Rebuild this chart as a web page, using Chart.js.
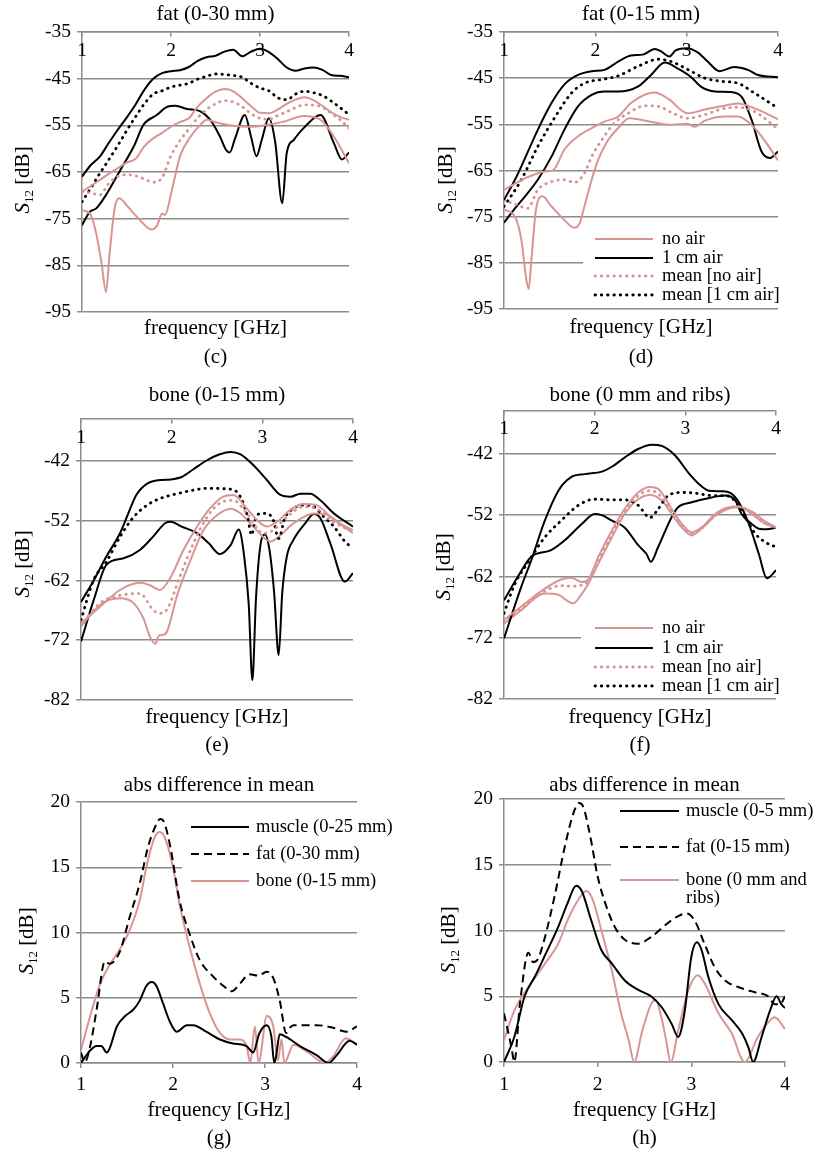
<!DOCTYPE html>
<html>
<head>
<meta charset="utf-8">
<title>S12 panels</title>
<script src="https://cdn.jsdelivr.net/npm/chart.js@4.4.1/dist/chart.umd.min.js"></script>
<style>
  html, body { margin: 0; padding: 0; background: #fff; }
  #page { position: relative; width: 815px; height: 1153px; overflow: hidden; }
  #page canvas { position: absolute; }
</style>
</head>
<body>
<div id="page">
  <canvas id="panelC" width="410" height="370" style="left:0;top:0"></canvas>
  <canvas id="panelD" width="410" height="370" style="left:405px;top:0"></canvas>
  <canvas id="panelE" width="410" height="380" style="left:0;top:380px"></canvas>
  <canvas id="panelF" width="410" height="380" style="left:405px;top:380px"></canvas>
  <canvas id="panelG" width="410" height="383" style="left:0;top:770px"></canvas>
  <canvas id="panelH" width="410" height="383" style="left:405px;top:770px"></canvas>
</div>
<script>
// ---- data (frequency in GHz, S12 in dB) ----

// (c) fat (0-30 mm)
const cGrid = [1.0,1.1,1.2,1.3,1.4,1.5,1.6,1.7,1.8,1.9,2.0,2.1,2.2,2.3,2.4,2.5,2.6,2.7,2.8,2.9,3.0,3.1,3.2,3.3,3.4,3.5,3.6,3.7,3.8,3.9,4.0];
const cAirHi = [-66,-63.5,-61.7,-58.8,-56,-53.4,-50.6,-47.4,-45,-43.8,-43.4,-43.2,-42.5,-41.2,-40.4,-40.1,-39.2,-38.8,-40.2,-39.2,-38.6,-39.3,-40.8,-42.6,-43.3,-42.8,-42.6,-43.1,-44.2,-44.4,-44.7];
const cAirMean = [-71.4,-68.4,-65.3,-62.4,-59.4,-56.2,-53.2,-50.4,-48.3,-47.6,-46.8,-46.4,-46,-45.1,-44.5,-44,-44.1,-44.3,-44.7,-46,-47,-47.6,-49.1,-49.5,-48.3,-47.7,-48,-48.6,-49.8,-51.2,-52.7];
const cNoAirHi = [-69.2,-68,-66.7,-65.4,-64.2,-63,-62.2,-59.5,-57.8,-56.6,-55.3,-54.3,-53.5,-51,-49.2,-47.8,-47.2,-47.7,-49.2,-50.9,-52.3,-52.4,-51.6,-50.4,-49.5,-49,-49.6,-50.8,-52.2,-53.2,-53.8];
const cNoAirMean = [-69.2,-69.5,-69.9,-67.5,-66,-65.6,-65.8,-66.5,-67.2,-66.2,-61.5,-58.3,-55.8,-53.4,-51.6,-50.4,-49.7,-50,-51,-52.5,-53.5,-53.7,-52.9,-52.1,-51.2,-50.6,-50.7,-51.1,-52.4,-53.8,-55.6];
const cAirLoF = [1.0,1.09,1.16,1.28,1.43,1.58,1.69,1.84,1.95,2.05,2.18,2.33,2.44,2.55,2.62,2.66,2.72,2.83,2.9,2.96,3.02,3.1,3.17,3.25,3.3,3.38,3.49,3.68,3.83,3.92,4.0];
const cAirLo = [-76.4,-73.5,-72.8,-69.6,-64.6,-59.6,-54.9,-52.8,-51.1,-50.8,-51.5,-52,-53.8,-57.4,-60.3,-60.8,-57.8,-52.8,-57.5,-61.6,-58.1,-53.5,-58.5,-71.7,-61,-58.1,-55.6,-52.8,-58.8,-62.3,-60.8];
const cNoAirLoF = [1.0,1.09,1.16,1.22,1.27,1.31,1.37,1.42,1.5,1.65,1.78,1.84,1.9,1.93,2.01,2.1,2.22,2.33,2.4,2.51,2.7,2.89,3.08,3.27,3.49,3.68,3.83,4.0];
const cNoAirLo = [-73.2,-73.9,-78.2,-84.6,-90.7,-82.5,-72.4,-70.6,-72.1,-75.3,-77.3,-76.6,-73.9,-74.2,-68.9,-61.7,-57.4,-54.9,-53.8,-54.4,-55.1,-55.3,-54.9,-54.2,-53,-53.8,-57.4,-63.1];

// (d) fat (0-15 mm)
const dAirHiF = [1.0,1.12,1.19,1.37,1.52,1.66,1.81,1.96,2.1,2.25,2.39,2.52,2.65,2.72,2.81,2.88,3.0,3.12,3.23,3.36,3.52,3.67,3.78,4.0];
const dAirHi = [-71.4,-67,-64.1,-56.2,-50.4,-46.4,-44.3,-43.5,-43.2,-41.4,-40.1,-39.9,-38.7,-39.2,-40.3,-39,-38.5,-39.4,-41.4,-43.5,-42.6,-43.2,-44.3,-44.8];
const dAirLoF = [1.0,1.12,1.23,1.37,1.52,1.66,1.81,1.96,2.1,2.25,2.47,2.61,2.76,2.91,3.05,3.16,3.31,3.47,3.6,3.71,3.82,3.91,4.0];
const dAirLo = [-76.3,-73.2,-70.6,-67,-62,-56.2,-51.1,-48.6,-47.9,-47.9,-46.8,-44.3,-41.6,-43,-44.8,-46.9,-47.9,-48,-49,-54,-60.9,-62.3,-60.9];
const dAirMeanF = [1.0,1.19,1.37,1.55,1.74,1.88,2.1,2.25,2.47,2.69,2.83,3.02,3.2,3.39,3.56,3.74,4.0];
const dAirMean = [-72.8,-67,-59.8,-53.7,-48.2,-46.1,-45.2,-44.5,-42.4,-40.9,-41.4,-43.2,-45,-45.7,-46.1,-48.2,-51.5];
const dNoAirHiF = [1.0,1.23,1.45,1.54,1.66,1.81,1.96,2.1,2.25,2.39,2.54,2.65,2.8,3.01,3.2,3.38,3.56,3.74,4.0];
const dNoAirHi = [-69.2,-66.7,-65.2,-64.9,-60.5,-57.6,-55.8,-54.4,-53.3,-50.4,-48.6,-48.1,-49.5,-52.6,-51.8,-51.1,-50.5,-51.5,-53.9];
const dNoAirLoF = [1.0,1.12,1.19,1.24,1.27,1.3,1.35,1.42,1.52,1.66,1.77,1.83,1.88,1.96,2.03,2.14,2.25,2.37,2.47,2.65,2.83,3.01,3.09,3.2,3.42,3.56,3.71,3.85,4.0];
const dNoAirLo = [-73.5,-75,-80,-88,-90.7,-84.4,-73.5,-70.6,-72.8,-75.7,-77.4,-76.4,-72.8,-67,-62.7,-58.4,-55.8,-53.7,-53.9,-54.6,-55.1,-54.9,-55.5,-54.2,-53.3,-53.3,-55.1,-58.4,-62.8];
const dNoAirMeanF = [1.0,1.15,1.26,1.37,1.52,1.66,1.77,1.88,1.96,2.07,2.21,2.36,2.54,2.69,2.83,3.01,3.2,3.38,3.56,3.74,4.0];
const dNoAirMean = [-71.4,-72.5,-73.2,-69.2,-67.4,-67,-67.6,-65.6,-62,-58.4,-54.7,-52.6,-51,-51.1,-52.4,-53.7,-52.9,-51.7,-51.3,-52.2,-56];

// (e) bone (0-15 mm)
const eAirHiF = [1.0,1.14,1.28,1.43,1.5,1.61,1.73,1.87,1.99,2.11,2.24,2.39,2.53,2.65,2.76,2.9,3.05,3.2,3.31,3.42,3.53,3.64,3.79,4.0];
const eAirHi = [-65.6,-62,-58,-54.1,-51.6,-47.7,-45.8,-45.2,-45.1,-44.7,-43.4,-41.9,-40.9,-40.5,-40.9,-42.7,-45.2,-47.7,-48,-47.5,-47.5,-48.6,-50.8,-53];
const eAirLoF = [1.0,1.14,1.28,1.47,1.65,1.8,1.93,1.99,2.11,2.28,2.41,2.53,2.65,2.74,2.8,2.85,2.89,2.93,2.98,3.03,3.08,3.13,3.18,3.22,3.27,3.34,3.47,3.57,3.64,3.75,3.91,4.0];
const eAirLo = [-72.2,-65.3,-59.4,-58.3,-56.9,-54.6,-52.4,-52.2,-53,-54.1,-55.8,-57.6,-56.1,-53.5,-58,-66,-78.7,-65,-56,-54.3,-57,-64,-74.5,-64,-58,-55.3,-52.5,-50.9,-51.6,-55.8,-62.2,-60.8];
const eAirMeanF = [1.0,1.14,1.28,1.43,1.58,1.73,1.87,2.06,2.24,2.39,2.61,2.72,2.79,2.84,2.88,2.93,2.98,3.05,3.12,3.18,3.25,3.34,3.45,3.57,3.68,3.79,3.93,4.0];
const eAirMean = [-68.6,-61.9,-58.9,-54.7,-51.4,-49.4,-48.3,-47.5,-46.9,-46.6,-46.7,-47.2,-49.1,-51.5,-54.4,-51.5,-50.8,-50.8,-51.9,-55,-51.5,-50,-49.4,-49.7,-51.4,-53,-55.8,-56.4];
const eNoAirHiF = [1.0,1.21,1.43,1.65,1.76,1.87,1.98,2.13,2.28,2.42,2.57,2.68,2.83,2.94,3.05,3.16,3.31,3.45,3.6,3.75,4.0];
const eNoAirHi = [-69.2,-66.4,-63.6,-62.4,-62.8,-63.6,-61.7,-56.9,-53,-50,-48,-47.7,-50,-51.9,-53,-52.2,-50.2,-49.2,-49.4,-51.4,-54.1];
const eNoAirLoF = [1.0,1.21,1.43,1.58,1.69,1.76,1.82,1.86,1.91,1.95,2.06,2.2,2.35,2.5,2.65,2.76,2.9,3.09,3.2,3.34,3.57,3.71,3.86,4.0];
const eNoAirLo = [-69.7,-66.1,-65,-65.8,-68.4,-71.4,-72.6,-71.2,-71.1,-70.5,-64.5,-58.9,-53.6,-51.1,-50,-50.8,-53,-55.5,-54.4,-52.5,-50.8,-51,-52.5,-53.6];
const eNoAirMeanF = [1.0,1.21,1.43,1.65,1.8,1.87,1.95,2.09,2.24,2.39,2.53,2.68,2.83,3.01,3.12,3.27,3.45,3.6,3.75,4.0];
const eNoAirMean = [-69.5,-65.8,-64.5,-64.2,-67,-67.5,-66.8,-61.4,-55.8,-51.4,-49.1,-48.6,-50.8,-54.1,-53.6,-51.4,-49.7,-50,-51.9,-53.9];

// (f) bone (0 mm and ribs)
const fAirHiF = [1.0,1.19,1.3,1.45,1.6,1.74,1.89,2.08,2.19,2.33,2.48,2.63,2.74,2.89,3.03,3.15,3.26,3.4,3.5,3.59,3.7,3.81,3.9,4.0];
const fAirHi = [-72.1,-63.7,-59.4,-52.9,-48,-45.8,-45.3,-44.9,-44.1,-42.6,-41.2,-40.5,-40.7,-42.3,-45,-46.9,-48,-48.1,-48.4,-49.9,-53.4,-58.3,-62.3,-61];
const fAirLoF = [1.0,1.15,1.3,1.52,1.67,1.86,2.0,2.08,2.19,2.33,2.48,2.57,2.62,2.7,2.85,2.92,3.07,3.29,3.44,3.55,3.62,3.73,3.81,3.9,4.0];
const fAirLo = [-65.9,-62.1,-58.8,-57.7,-56.1,-53.4,-51.8,-52,-52.9,-54,-56.9,-58.3,-59.6,-57.2,-52.3,-50.7,-49.9,-49.1,-48.8,-49.6,-51.8,-53.4,-54.2,-54.3,-54];
const fAirMeanF = [1.0,1.12,1.27,1.45,1.63,1.82,2.0,2.19,2.33,2.48,2.61,2.7,2.81,2.96,3.11,3.29,3.44,3.55,3.66,3.77,3.88,4.0];
const fAirMean = [-68,-63.2,-59.6,-55.6,-52.9,-50.4,-49.4,-49.5,-49.5,-50.4,-52.4,-51,-48.8,-48.3,-48.4,-48.8,-48.8,-49.7,-52.3,-55,-56.4,-57.2];
const fNoAirF = [1.0,1.19,1.45,1.63,1.74,1.86,1.93,2.04,2.19,2.33,2.48,2.61,2.7,2.85,2.96,3.07,3.18,3.33,3.48,3.59,3.73,3.88,4.0];
const fNoAirHi = [-69.1,-66.9,-64,-62.5,-62.2,-62.9,-62.5,-58.8,-54.5,-51,-48.3,-47.4,-47.7,-51,-53.4,-54.8,-54,-51.8,-50.7,-50.6,-51.8,-53.4,-54];
const fNoAirMean = [-69.4,-67.2,-64.4,-63.5,-63.6,-63.4,-62.8,-59.3,-55,-51.4,-48.8,-48,-48.5,-51.4,-53.7,-55,-54.1,-52,-50.8,-50.6,-51.6,-53.2,-54];
const fNoAirLoF = [1.0,1.19,1.45,1.6,1.71,1.76,1.86,1.93,2.04,2.19,2.33,2.48,2.61,2.74,2.85,2.96,3.07,3.18,3.33,3.48,3.59,3.73,3.88,4.0];
const fNoAirLo = [-69.7,-67.5,-64.8,-65,-66.1,-66.4,-64.8,-63.2,-59.9,-55.6,-51.8,-49.4,-48.7,-49.6,-51.8,-54,-55.3,-54.2,-52.1,-50.9,-50.7,-51.4,-53,-54];

// (g) abs difference in mean
const gMuscleF = [1.0,1.08,1.17,1.22,1.28,1.31,1.39,1.48,1.57,1.64,1.71,1.77,1.82,1.89,1.97,2.04,2.15,2.22,2.36,2.51,2.65,2.8,2.87,2.94,3.02,3.07,3.1,3.12,3.16,3.23,3.38,3.56,3.69,3.78,3.92,4.0];
const gMuscle = [0,0.8,1.3,1.3,0.8,1.1,2.8,3.6,4.1,4.8,5.9,6.2,5.9,4.6,3.1,2.4,2.9,2.9,2.4,1.8,1.5,1.3,0.8,2.3,2.9,2,0,0.5,2.2,2,1.3,0.6,0,0.6,1.7,1.4];
const gFatF = [1.0,1.04,1.1,1.17,1.26,1.31,1.42,1.53,1.64,1.73,1.82,1.86,1.9,1.97,2.07,2.18,2.29,2.44,2.55,2.64,2.73,2.83,2.93,3.02,3.09,3.16,3.23,3.27,3.31,3.56,3.74,3.88,4.0];
const gFat = [0.8,0.05,1.3,4.1,7.8,7.6,8.5,11.2,13.8,16.6,18.3,18.7,18.5,16.6,12.5,9.9,7.9,6.6,5.9,5.5,6.1,6.8,6.7,7,6.5,4.8,2.3,2.7,2.9,2.9,2.7,2.4,2.8];
const gBoneF = [1.0,1.1,1.21,1.31,1.42,1.53,1.64,1.71,1.79,1.85,1.91,2.0,2.07,2.18,2.29,2.4,2.51,2.62,2.73,2.8,2.84,2.89,2.93,3.02,3.09,3.14,3.18,3.21,3.31,3.45,3.65,3.74,3.88,4.0];
const gBone = [1,3.6,6.1,7.5,8.7,10.2,12.5,15,17.1,17.7,17.3,15,12.2,8.9,6.1,3.8,2.3,1.8,1.8,1.3,0,2.8,0,3.6,2.8,0.2,1.8,0,1.4,0.9,0,0.5,1.9,1.4];

// (h) abs difference in mean
const hMuscleF = [1.0,1.11,1.22,1.33,1.43,1.58,1.68,1.77,1.83,1.93,2.04,2.15,2.29,2.43,2.57,2.68,2.79,2.86,2.93,3.0,3.06,3.11,3.18,3.29,3.43,3.54,3.61,3.66,3.75,3.84,3.91,3.96,4.0];
const hMuscle = [0,1.9,5,6.5,8,10.3,12.1,13.4,13,10.8,8.5,7.5,6.2,5.5,5,4.2,2.9,1.9,3.9,8,9.1,8.5,6.5,4.4,3.2,2.2,1.1,0,1.9,3.9,5,4.4,4.1];
const hFatF = [1.0,1.08,1.11,1.17,1.26,1.31,1.36,1.43,1.54,1.65,1.74,1.8,1.84,1.92,2.0,2.08,2.18,2.29,2.43,2.57,2.72,2.86,2.95,3.04,3.14,3.25,3.36,3.5,3.68,3.82,3.89,3.95,4.0];
const hFat = [3.7,1.1,0,4.4,8.3,7.6,7.8,9.3,12.6,16.4,18.9,19.7,19.5,17.2,14.1,12.1,10.3,9.3,9,9.5,10.4,11.1,11.3,10.7,9,7.2,6.2,5.7,5.3,5,4.4,4.4,5];
const hBoneF = [1.0,1.11,1.26,1.36,1.47,1.58,1.68,1.79,1.88,1.95,2.04,2.15,2.25,2.33,2.39,2.47,2.57,2.62,2.68,2.73,2.78,2.86,2.97,3.07,3.14,3.29,3.43,3.57,3.71,3.82,3.89,4.0];
const hBone = [1.7,3.9,5.7,6.7,7.8,9,10.8,12.3,13,12.3,10,7,3.7,1.7,0,2.2,4.4,4.7,3.4,1.7,0,2.4,5.5,6.6,6,3.7,2.2,0,1.9,3,3.4,2.5];

// tick labels for the bone panels (axis runs -82 .. -35)
const boneTicks = [-82, -72, -62, -52, -42];

// ---- styling ----
const SERIF = '"Liberation Serif", "Times New Roman", serif';
const PINK = '#d99494';
const BLACK = '#000';
const GRID = '#8c8c8c';

const series = (label, f, v, color, style, inLegend = true) => ({
  label: label,
  inLegend: inLegend,
  data: f.map((x, i) => ({ x: x, y: v[i] })),
  borderColor: color,
  backgroundColor: color,
  borderWidth: style === 'dot' ? 2.8 : 2,
  borderDash: style === 'dot' ? [0.5, 5.8] : style === 'dash' ? [8, 5] : [],
  borderCapStyle: style === 'dot' ? 'round' : 'butt',
  pointRadius: 0,
  cubicInterpolationMode: 'monotone',
  fill: false
});

// legend box and the S12 [dB] title drawn inside each panel
const panelDecor = {
  id: 'panelDecor',
  afterDatasetsDraw(chart, args, opts) {
    const L = opts.legend;
    if (!L) return;
    const ctx = chart.ctx;
    ctx.save();
    ctx.fillStyle = '#fff';
    ctx.fillRect(L.box[0], L.box[1], L.box[2], L.box[3]);
    ctx.font = L.size + 'px ' + SERIF;
    ctx.textBaseline = 'middle';
    ctx.textAlign = 'left';
    let k = 0;
    chart.data.datasets.forEach(ds => {
      if (ds.inLegend === false) return;
      const y = L.rows[k++];
      ctx.beginPath();
      ctx.strokeStyle = ds.borderColor;
      ctx.lineWidth = ds.borderWidth;
      ctx.setLineDash(ds.borderDash);
      ctx.lineCap = ds.borderCapStyle;
      ctx.moveTo(L.x0, y);
      ctx.lineTo(L.x1, y);
      ctx.stroke();
      ctx.fillStyle = '#000';
      String(ds.label).split('\n').forEach((t, j) => ctx.fillText(t, L.tx, y + j * L.lh));
    });
    ctx.restore();
  },
  afterDraw(chart, args, opts) {
    const T = opts.yTitle;
    if (!T) return;
    const ctx = chart.ctx;
    const big = 'italic 21px ' + SERIF, small = '13px ' + SERIF, reg = '21px ' + SERIF;
    ctx.save();
    ctx.translate(T.x, T.y);
    ctx.rotate(-Math.PI / 2);
    ctx.fillStyle = '#000';
    ctx.textBaseline = 'alphabetic';
    ctx.textAlign = 'left';
    ctx.font = big; const wS = ctx.measureText('S').width;
    ctx.font = small; const w12 = ctx.measureText('12').width;
    ctx.font = reg; const wR = ctx.measureText(' [dB]').width;
    let x = -(wS + w12 + wR) / 2;
    ctx.font = big; ctx.fillText('S', x, 7); x += wS;
    ctx.font = small; ctx.fillText('12', x, 11); x += w12;
    ctx.font = reg; ctx.fillText(' [dB]', x, 7);
    ctx.restore();
  }
};

const tickFont = { family: SERIF, size: 19.5 };
const textFont = { family: SERIF, size: 21, weight: 'normal' };

function makePanel(id, p, datasets) {
  const lh = textFont.size * 1.2;
  const xH = p.freqY - p.bottom + lh / 2;
  const yScale = {
    min: p.ymin, max: p.ymax,
    ticks: { stepSize: p.ystep, color: '#000', font: tickFont, padding: 6 },
    grid: { color: GRID, lineWidth: 1.5, tickLength: 5 },
    border: { color: GRID, width: 1.5 },
    afterFit: s => { s.width = p.left; }
  };
  if (p.yTicks) yScale.afterBuildTicks = s => { s.ticks = p.yTicks.map(v => ({ value: v })); };

  const scales = { y: yScale };
  if (p.topAxis) {
    scales.x = {
      type: 'linear', min: 1, max: 4, position: 'bottom',
      ticks: { display: false },
      grid: { display: false },
      border: { display: false },
      title: { display: true, text: 'frequency [GHz]', color: '#000', font: textFont, padding: 0 },
      afterFit: s => { s.height = xH; }
    };
    scales.x2 = {
      type: 'linear', min: 1, max: 4, position: { y: p.ymax },
      ticks: { stepSize: 1, color: '#000', font: tickFont, padding: p.tickPad, maxRotation: 0 },
      grid: { drawOnChartArea: false, color: GRID, lineWidth: 1.5, tickLength: 4 },
      border: { color: GRID, width: 1.5 }
    };
  } else {
    scales.x = {
      type: 'linear', min: 1, max: 4, position: 'bottom',
      ticks: { stepSize: 1, color: '#000', font: tickFont, padding: p.tickPad, maxRotation: 0 },
      grid: { drawOnChartArea: false, color: GRID, lineWidth: 1.5, tickLength: 5 },
      border: { color: GRID, width: 1.5 },
      title: { display: true, text: 'frequency [GHz]', color: '#000', font: textFont, padding: 0 },
      afterFit: s => { s.height = xH; }
    };
  }

  return new Chart(document.getElementById(id), {
    type: 'line',
    data: { datasets: datasets },
    options: {
      responsive: false,
      animation: false,
      layout: { padding: { left: 0, top: 0, bottom: 0, right: p.w - p.right } },
      scales: scales,
      plugins: {
        legend: { display: false },
        tooltip: { enabled: false },
        title: {
          display: true, fullSize: false, text: p.title, color: '#000', font: textFont,
          padding: { top: p.titleY - lh / 2, bottom: p.top - p.titleY - lh / 2 }
        },
        subtitle: {
          display: true, fullSize: false, position: 'bottom', text: p.caption, color: '#000', font: textFont,
          padding: { top: p.capY - lh / 2 - p.bottom - xH, bottom: p.h - p.capY - lh / 2 }
        },
        panelDecor: { legend: p.legend, yTitle: p.yTitle }
      }
    },
    plugins: [panelDecor]
  });
}

makePanel('panelC', {
  w: 410, h: 370, left: 82, right: 349, top: 32, bottom: 312,
  titleY: 14.5, freqY: 328, capY: 357, tickPad: 3, topAxis: true,
  ymin: -95, ymax: -35, ystep: 10,
  title: 'fat (0-30 mm)', caption: '(c)', yTitle: { x: 22, y: 180 }
}, [
  series('no air', cGrid, cNoAirHi, PINK, 'solid'),
  series('1 cm air', cGrid, cAirHi, BLACK, 'solid'),
  series('mean [no air]', cGrid, cNoAirMean, PINK, 'dot'),
  series('mean [1 cm air]', cGrid, cAirMean, BLACK, 'dot'),
  series('no air', cNoAirLoF, cNoAirLo, PINK, 'solid', false),
  series('1 cm air', cAirLoF, cAirLo, BLACK, 'solid', false)
]);

makePanel('panelD', {
  w: 410, h: 370, left: 99, right: 373, top: 32, bottom: 309,
  titleY: 14.5, freqY: 327, capY: 357, tickPad: 3, topAxis: true,
  ymin: -95, ymax: -35, ystep: 10,
  title: 'fat (0-15 mm)', caption: '(d)', yTitle: { x: 40, y: 180 },
  legend: { box: [178, 228, 232, 78], x0: 190, x1: 248, tx: 257, rows: [239, 258, 276, 295], size: 18.5, lh: 18 }
}, [
  series('no air', dNoAirHiF, dNoAirHi, PINK, 'solid'),
  series('1 cm air', dAirHiF, dAirHi, BLACK, 'solid'),
  series('mean [no air]', dNoAirMeanF, dNoAirMean, PINK, 'dot'),
  series('mean [1 cm air]', dAirMeanF, dAirMean, BLACK, 'dot'),
  series('no air', dNoAirLoF, dNoAirLo, PINK, 'solid', false),
  series('1 cm air', dAirLoF, dAirLo, BLACK, 'solid', false)
]);

makePanel('panelE', {
  w: 410, h: 380, left: 81, right: 353, top: 39, bottom: 320,
  titleY: 15, freqY: 337, capY: 365, tickPad: 3, topAxis: true,
  ymin: -82, ymax: -35, ystep: 10, yTicks: boneTicks,
  title: 'bone (0-15 mm)', caption: '(e)', yTitle: { x: 22, y: 184 }
}, [
  series('no air', eNoAirHiF, eNoAirHi, PINK, 'solid'),
  series('1 cm air', eAirHiF, eAirHi, BLACK, 'solid'),
  series('mean [no air]', eNoAirMeanF, eNoAirMean, PINK, 'dot'),
  series('mean [1 cm air]', eAirMeanF, eAirMean, BLACK, 'dot'),
  series('no air', eNoAirLoF, eNoAirLo, PINK, 'solid', false),
  series('1 cm air', eAirLoF, eAirLo, BLACK, 'solid', false)
]);

makePanel('panelF', {
  w: 410, h: 380, left: 99, right: 371, top: 31, bottom: 319,
  titleY: 15, freqY: 337, capY: 365, tickPad: 2, topAxis: true,
  ymin: -82, ymax: -35, ystep: 10, yTicks: boneTicks,
  title: 'bone (0 mm and ribs)', caption: '(f)', yTitle: { x: 38, y: 187 },
  legend: { box: [176, 238, 234, 79], x0: 190, x1: 248, tx: 257, rows: [248, 268, 287, 306], size: 18.5, lh: 18 }
}, [
  series('no air', fNoAirF, fNoAirHi, PINK, 'solid'),
  series('1 cm air', fAirHiF, fAirHi, BLACK, 'solid'),
  series('mean [no air]', fNoAirF, fNoAirMean, PINK, 'dot'),
  series('mean [1 cm air]', fAirMeanF, fAirMean, BLACK, 'dot'),
  series('no air', fNoAirLoF, fNoAirLo, PINK, 'solid', false),
  series('1 cm air', fAirLoF, fAirLo, BLACK, 'solid', false)
]);

makePanel('panelG', {
  w: 410, h: 383, left: 81, right: 357, top: 32, bottom: 293,
  titleY: 15, freqY: 340, capY: 368, tickPad: 5.4, topAxis: false,
  ymin: 0, ymax: 20, ystep: 5,
  title: 'abs difference in mean', caption: '(g)', yTitle: { x: 26, y: 171 },
  legend: { box: [182, 40, 228, 86], x0: 191, x1: 249, tx: 256, rows: [57, 84, 111], size: 18.5, lh: 18 }
}, [
  series('muscle (0-25 mm)', gMuscleF, gMuscle, BLACK, 'solid'),
  series('fat (0-30 mm)', gFatF, gFat, BLACK, 'dash'),
  series('bone (0-15 mm)', gBoneF, gBone, PINK, 'solid')
]);

makePanel('panelH', {
  w: 410, h: 383, left: 99, right: 380, top: 29, bottom: 292,
  titleY: 15, freqY: 340, capY: 368, tickPad: 6.4, topAxis: false,
  ymin: 0, ymax: 20, ystep: 5,
  title: 'abs difference in mean', caption: '(h)', yTitle: { x: 43, y: 170 },
  legend: { box: [206, 32, 204, 108], x0: 215, x1: 274, tx: 281, rows: [41, 77, 110], size: 18.5, lh: 18 }
}, [
  series('muscle (0-5 mm)', hMuscleF, hMuscle, BLACK, 'solid'),
  series('fat (0-15 mm)', hFatF, hFat, BLACK, 'dash'),
  series('bone (0 mm and\nribs)', hBoneF, hBone, PINK, 'solid')
]);
</script>
</body>
</html>
